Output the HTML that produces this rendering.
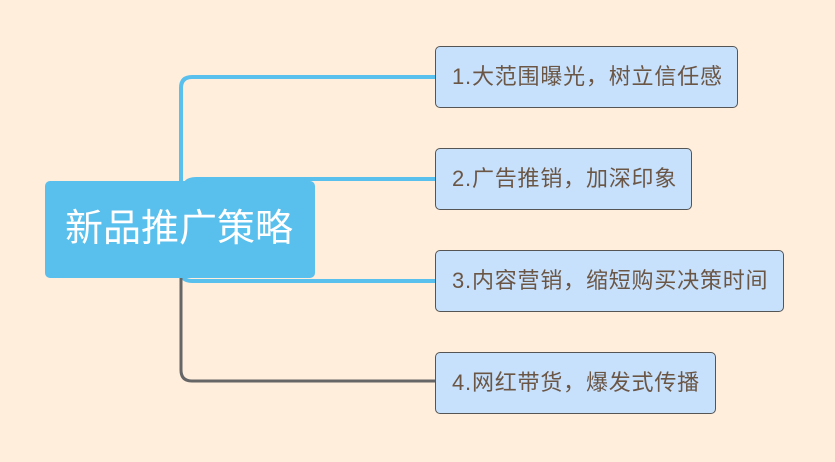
<!DOCTYPE html>
<html><head><meta charset="utf-8"><style>
body{margin:0;width:835px;height:462px;background:#ffeedc;position:relative;overflow:hidden;font-family:"Liberation Sans","Noto Sans CJK SC",sans-serif}
.b{position:absolute;left:435px;height:62px;background:#c7e1fc;border:1px solid #555;border-radius:5px;box-sizing:border-box;color:#6b5646;font-size:22px;letter-spacing:0.8px;line-height:60px;padding-left:16px;white-space:nowrap}
.root{position:absolute;left:45px;top:181px;width:270px;height:97px;background:#59bfed;border-radius:5px;color:#fff;font-size:38px;line-height:97px;padding-left:20px;box-sizing:border-box}
</style></head><body>
<svg width="835" height="462" style="position:absolute;left:0;top:0">
<path d="M435 77 H192 Q181 77 181 88 V200" fill="none" stroke="#59bfed" stroke-width="4"/>
<path d="M435 179 H196 Q184 179 184 190" fill="none" stroke="#59bfed" stroke-width="4"/>
<path d="M181 270 Q181 281 192 281 H435" fill="none" stroke="#59bfed" stroke-width="4"/>
<path d="M181 270 V370 Q181 381 192 381 H435" fill="none" stroke="#666" stroke-width="3"/>
</svg>
<div class="root">新品推广策略</div>
<div class="b" style="top:46px;width:303px">1.大范围曝光，树立信任感</div>
<div class="b" style="top:148px;width:257px">2.广告推销，加深印象</div>
<div class="b" style="top:250px;width:349px">3.内容营销，缩短购买决策时间</div>
<div class="b" style="top:352px;width:281px">4.网红带货，爆发式传播</div>
</body></html>
